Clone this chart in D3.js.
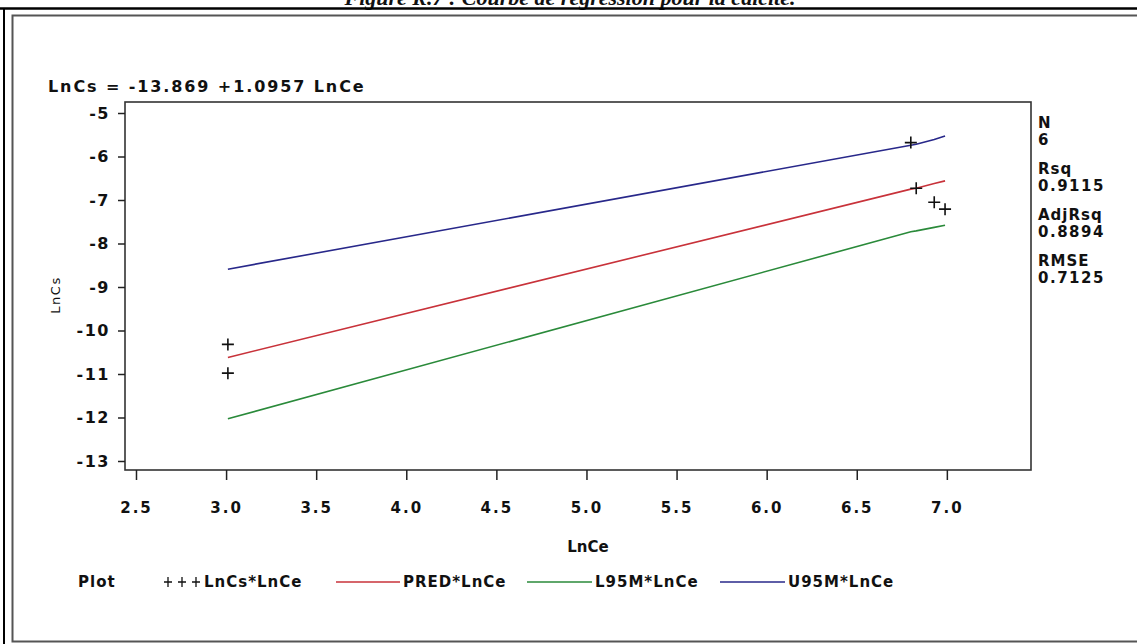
<!DOCTYPE html>
<html>
<head>
<meta charset="utf-8">
<script src="https://cdn.jsdelivr.net/npm/d3@7"></script>
<style>
  body { margin: 0; background: #fff; }
  svg { display: block; }
  text { font-family: "DejaVu Sans", sans-serif; fill: #111; }
</style>
</head>
<body>
<div id="chart"></div>
<script>
// data
const lnCe = [3.01, 3.01, 6.80, 6.83, 6.93, 6.99];
const lnCs = [-10.32, -10.98, -5.68, -6.73, -7.05, -7.21];
const pred = [-10.62, -10.62, -6.75, -6.73, -6.62, -6.56];
const l95m = [-12.03, -12.03, -7.73, -7.71, -7.63, -7.58];
const u95m = [-8.59, -8.59, -5.74, -5.72, -5.61, -5.53];

const xTicks = [2.5, 3.0, 3.5, 4.0, 4.5, 5.0, 5.5, 6.0, 6.5, 7.0];
const yTicks = [-5, -6, -7, -8, -9, -10, -11, -12, -13];

const statNames = ["N", "Rsq", "AdjRsq", "RMSE"];
const statValues = ["6", "0.9115", "0.8894", "0.7125"];

const legendNames = ["LnCs*LnCe", "PRED*LnCe", "L95M*LnCe", "U95M*LnCe"];
const lineColours = { pred: "#c8323a", l95m: "#2a8a3a", u95m: "#28288a" };

const width = 1137, height = 644;

const svg = d3.select("#chart")
  .append("svg")
  .attr("width", width)
  .attr("height", height);

// page frame, title cut at the top
svg.append("text")
  .attr("x", 570)
  .attr("y", 5)
  .attr("text-anchor", "middle")
  .style("font-family", "'Liberation Serif', serif")
  .style("font-weight", "bold")
  .style("font-style", "italic")
  .style("font-size", "22px")
  .text("Figure R.7 : Courbe de régression pour la calcite.");

svg.append("line")
  .attr("x1", 0).attr("x2", width).attr("y1", 8.5).attr("y2", 8.5)
  .attr("stroke", "#000").attr("stroke-width", 2.5);
svg.append("line")
  .attr("x1", 4).attr("x2", 4).attr("y1", 8).attr("y2", height)
  .attr("stroke", "#000").attr("stroke-width", 2);
svg.append("rect")
  .attr("x", 12.5).attr("y", 15.5)
  .attr("width", width).attr("height", 626)
  .attr("fill", "none")
  .attr("stroke", "#555").attr("stroke-width", 2);

const x = d3.scaleLinear().domain([2.439, 7.467]).range([125, 1031]);
const y = d3.scaleLinear().domain([-13.207, -4.747]).range([470, 102]);

// plot frame
svg.append("rect")
  .attr("x", x.range()[0]).attr("y", y.range()[1])
  .attr("width", x.range()[1] - x.range()[0])
  .attr("height", y.range()[0] - y.range()[1])
  .attr("fill", "none")
  .attr("stroke", "#333").attr("stroke-width", 1.6);

// axes
const xAxis = svg.append("g")
  .attr("transform", `translate(0,${y.range()[0]})`)
  .call(d3.axisBottom(x).tickValues(xTicks).tickSize(10).tickPadding(22).tickFormat(d3.format(".1f")));
const yAxis = svg.append("g")
  .attr("transform", `translate(${x.range()[0]},0)`)
  .call(d3.axisLeft(y).tickValues(yTicks).tickSize(7).tickPadding(8).tickFormat(d => String(d).replace("−", "-")));

[xAxis, yAxis].forEach(g => {
  g.select(".domain").remove();
  g.selectAll(".tick line").attr("stroke", "#222").attr("stroke-width", 1.5);
  g.selectAll(".tick text")
    .attr("fill", "#111")
    .style("font-family", "'DejaVu Sans', sans-serif")
    .style("font-weight", "bold")
    .style("font-size", "15px")
    .style("letter-spacing", "2px");
});
yAxis.selectAll(".tick text").style("font-size", "16px").style("letter-spacing", "1.5px");

// equation above the plot
svg.append("text")
  .attr("x", 48).attr("y", 92)
  .style("font-weight", "bold")
  .style("font-size", "16px")
  .style("letter-spacing", "1.9px")
  .text("LnCs = -13.869 +1.0957 LnCe");

// axis labels
svg.append("text")
  .attr("transform", "translate(60,295) rotate(-90)")
  .attr("text-anchor", "middle")
  .style("font-size", "13px")
  .style("letter-spacing", "1.5px")
  .text("LnCs");

svg.append("text")
  .attr("x", 588).attr("y", 552)
  .attr("text-anchor", "middle")
  .style("font-weight", "bold")
  .style("font-size", "15px")
  .text("LnCe");

// lines
const idx = d3.range(lnCe.length);
const lineOf = arr => d3.line().x(i => x(lnCe[i])).y(i => y(arr[i]));
[["u95m", u95m], ["pred", pred], ["l95m", l95m]].forEach(([k, arr]) => {
  svg.append("path")
    .datum(idx)
    .attr("fill", "none")
    .attr("stroke", lineColours[k])
    .attr("stroke-width", 1.6)
    .attr("d", lineOf(arr));
});

// observed points as plus signs
svg.append("g")
  .selectAll("path")
  .data(idx)
  .join("path")
  .attr("transform", i => `translate(${x(lnCe[i])},${y(lnCs[i])})`)
  .attr("d", "M-6,0H6M0,-6V6")
  .attr("stroke", "#111")
  .attr("stroke-width", 1.6);

// stats on the right
const stats = svg.append("g")
  .selectAll("g")
  .data(statNames)
  .join("g")
  .attr("transform", (d, i) => `translate(1038,${128 + i * 46})`);
stats.append("text")
  .style("font-weight", "bold").style("font-size", "15px").style("letter-spacing", "1px")
  .text(d => d);
stats.append("text")
  .attr("y", 17)
  .style("font-weight", "bold").style("font-size", "15px").style("letter-spacing", "1.5px")
  .text((d, i) => statValues[i]);

// legend
const legY = 582;
const leg = svg.append("g")
  .style("font-weight", "bold")
  .style("font-size", "15px")
  .style("letter-spacing", "1px");
leg.append("text").attr("x", 78).attr("y", legY + 5).text("Plot");

const plusXs = [168, 182, 196];
leg.selectAll("path.p")
  .data(plusXs)
  .join("path")
  .attr("class", "p")
  .attr("transform", d => `translate(${d},${legY})`)
  .attr("d", "M-4,0H4M0,-5V5")
  .attr("stroke", "#111").attr("stroke-width", 1.3);
leg.append("text").attr("x", 204).attr("y", legY + 5).text(legendNames[0]);

const legLines = [
  { x1: 336, x2: 400, colour: lineColours.pred, label: legendNames[1] },
  { x1: 527, x2: 592, colour: lineColours.l95m, label: legendNames[2] },
  { x1: 720, x2: 785, colour: lineColours.u95m, label: legendNames[3] }
];
legLines.forEach(d => {
  leg.append("line")
    .attr("x1", d.x1).attr("x2", d.x2).attr("y1", legY).attr("y2", legY)
    .attr("stroke", d.colour).attr("stroke-width", 1.6);
  leg.append("text").attr("x", d.x2 + 3).attr("y", legY + 5).text(d.label);
});
</script>
</body>
</html>
